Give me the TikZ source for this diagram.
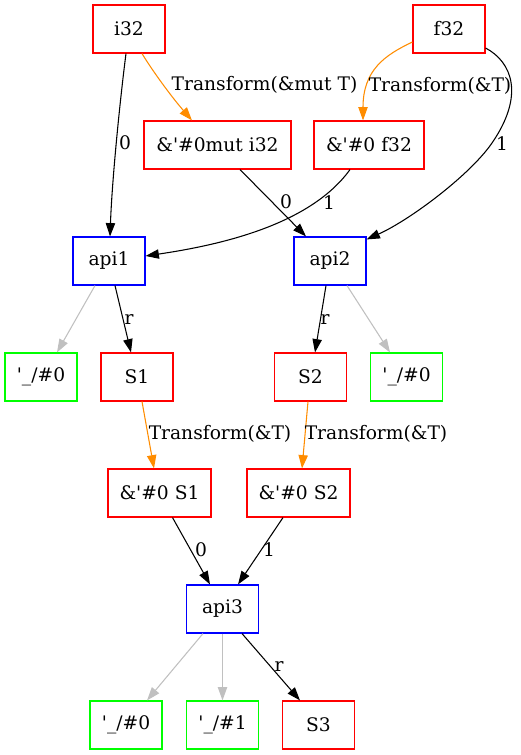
\documentclass[tikz,border=0pt]{standalone}
\usepackage{fontspec}
\setmainfont{DejaVu Serif}
\usetikzlibrary{arrows.meta,calc}
\definecolor{gvred}{RGB}{255,0,0}
\definecolor{gvgreen}{RGB}{0,255,0}
\definecolor{gvblue}{RGB}{0,0,255}
\definecolor{gvorange}{RGB}{255,140,0}
\definecolor{gvgray}{RGB}{192,192,192}
\newcommand{\qs}{\textquotesingle}
\tikzset{
  box/.style={draw, line width=0.85pt, rectangle, inner sep=0pt, minimum height=36pt, minimum width=54pt, font=\fontsize{14pt}{16pt}\selectfont},
  tyb/.style={box, draw=gvred},
  ltb/.style={box, draw=gvgreen},
  apb/.style={box, draw=gvblue},
  lbl/.style={inner sep=0pt, font=\fontsize{14pt}{16pt}\selectfont},
  edge/.style={line width=0.8pt, draw=black, -{Triangle[length=10pt,width=7pt]}},
  tedge/.style={edge, draw=gvorange, -{Triangle[length=10pt,width=7pt,fill=gvorange]}},
  gedge/.style={edge, draw=gvgray, -{Triangle[length=10pt,width=7pt,fill=gvgray]}},
}
\begin{document}
\begin{tikzpicture}[x=0.75pt,y=-0.75pt]
\useasboundingbox (0,0) rectangle (520,755);
% nodes
\node[tyb] (i32) at (129,29) {i32};
\node[tyb] (f32) at (449,29) {f32};
\node[tyb, minimum width=110.25pt] (muti) at (217.5,145) {\&\qs\#0mut i32};
\node[tyb, minimum width=82.5pt] (reff) at (369,145) {\&\qs\#0 f32};
\node[apb] (api1) at (109,261) {api1};
\node[apb] (api2) at (330,261) {api2};
\node[ltb] (l1) at (41,377) {\qs\_/\#0};
\node[tyb] (s1) at (137,377) {S1};
\node[tyb] (s2) at (310.5,377) {S2};
\node[ltb] (l2) at (406.5,377) {\qs\_/\#0};
\node[tyb, minimum width=77.25pt] (rs1) at (159.5,493) {\&\qs\#0 S1};
\node[tyb, minimum width=77.25pt] (rs2) at (298.5,493) {\&\qs\#0 S2};
\node[apb] (api3) at (222.5,609) {api3};
\node[ltb] (l3) at (126,725) {\qs\_/\#0};
\node[ltb] (l4) at (222.5,725) {\qs\_/\#1};
\node[tyb] (s3) at (318.5,725) {S3};
% edges
\draw[edge] ($(i32.south)+(-3,0)$) .. controls (120,100) and (112,180) .. ($(api1.north)+(1,0)$);
\draw[tedge] ($(i32.south)+(13,0)$) .. controls (152,70) and (170,95) .. ($(muti.north)+(-25.5,0)$);
\draw[tedge] ($(f32.west)+(0,13)$) .. controls (385,55) and (363,70) .. ($(reff.north)+(-6,0)$);
\draw[edge] ($(f32.east)+(0,19)$) .. controls (512,62) and (525,95) .. (492,143) .. controls (470,175) and (410,220) .. ($(api2.north east)+(0,3)$);
\draw[edge] ($(muti.south)+(22.5,0)$) -- ($(api2.north)+(-24,0)$);
\draw[edge] ($(reff.south)+(-19,0)$) .. controls (310,225) and (220,245) .. ($(api1.east)+(0,-5)$);
\draw[gedge] ($(api1.south)+(-14,0)$) -- ($(l1.north)+(16,0)$);
\draw[edge] ($(api1.south)+(6,0)$) -- ($(s1.north)+(-6,0)$);
\draw[edge] ($(api2.south)+(-4,0)$) -- ($(s2.north)+(4.5,0)$);
\draw[gedge] ($(api2.south)+(17,0)$) -- ($(l2.north)+(-16.5,0)$);
\draw[tedge] ($(s1.south)+(5,0)$) -- ($(rs1.north)+(-5.5,0)$);
\draw[tedge] ($(s2.south)+(-2.5,0)$) -- ($(rs2.north)+(3.5,0)$);
\draw[edge] ($(rs1.south)+(13,0)$) -- ($(api3.north)+(-12.5,0)$);
\draw[edge] ($(rs2.south)+(-15.5,0)$) -- ($(api3.north)+(15.5,0)$);
\draw[gedge] ($(api3.south)+(-19.5,0)$) -- ($(l3.north)+(21,0)$);
\draw[gedge] (api3.south) -- (l4.north);
\draw[edge] ($(api3.south)+(19.5,0)$) -- ($(s3.north)+(-18.5,0)$);
% labels
\node[lbl] (t1) at (125,143) {0};
\node[lbl] (t2) at (264.5,85) {Transform(\&mut T)};
\node[lbl] (t3) at (440,86) {Transform(\&T)};
\node[lbl] (t4) at (502,144) {1};
\node[lbl] (t5) at (286,202) {0};
\node[lbl] (t6) at (329,203) {1};
\node[lbl] (t7) at (129,320) {r};
\node[lbl] (t8) at (325,320) {r};
\node[lbl] (t9) at (220,434) {Transform(\&T)};
\node[lbl] (t10) at (376,434) {Transform(\&T)};
\node[lbl] (t11) at (201,550) {0};
\node[lbl] (t12) at (269,550) {1};
\node[lbl] (t13) at (279,667) {r};
\end{tikzpicture}
\end{document}
